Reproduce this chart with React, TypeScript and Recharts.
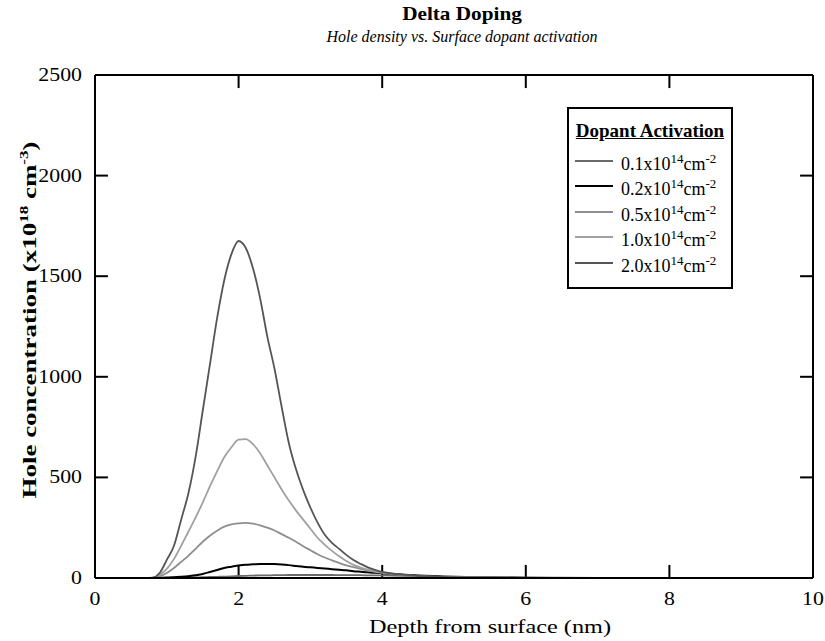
import React from "react";
import { LineChart, Line, XAxis, YAxis, Legend, ReferenceLine } from "recharts";

const depth = [0, 0.5, 0.7, 0.8, 0.9, 1.0, 1.1, 1.2, 1.3, 1.4, 1.5, 1.6, 1.7, 1.8, 1.9, 2.0, 2.1, 2.2, 2.3, 2.4, 2.5, 2.6, 2.7, 2.8, 2.9, 3.0, 3.1, 3.2, 3.3, 3.4, 3.5, 3.6, 3.7, 3.8, 3.9, 4.0, 4.5, 5.0, 5.5, 6.0, 7.0, 8.0, 9.0, 10.0];

const act01 = [0, 0, 0, 0, 0, 0, 0, 1, 2, 3, 4, 5, 6, 7, 8, 10, 11, 12, 13, 13, 14, 14, 15, 15, 15, 15, 15, 15, 15, 14, 14, 14, 14, 13, 13, 13, 8, 5, 3, 2, 1, 0, 0, 0];
const act02 = [0, 0, 0, 0, 1, 2, 4, 6, 9, 14, 20, 30, 40, 50, 56, 62, 66, 68, 70, 70, 69, 67, 64, 60, 56, 53, 50, 47, 44, 41, 38, 34, 31, 28, 26, 24, 12, 6, 3, 1, 0, 0, 0, 0];
const act05 = [0, 0, 0, 1, 8, 25, 50, 80, 110, 145, 180, 210, 235, 255, 267, 272, 274, 270, 262, 250, 236, 218, 200, 180, 158, 138, 118, 102, 88, 75, 63, 54, 45, 37, 31, 26, 9, 4, 2, 1, 0, 0, 0, 0];
const act10 = [0, 0, 0, 1, 15, 45, 95, 160, 230, 300, 375, 455, 530, 600, 650, 688, 690, 665, 620, 560, 500, 440, 385, 335, 290, 245, 200, 165, 135, 108, 85, 65, 52, 42, 34, 28, 9, 4, 2, 1, 0, 0, 0, 0];
const act20 = [0, 0, 0, 2, 25, 90, 160, 290, 420, 600, 830, 1060, 1290, 1480, 1610, 1675, 1640, 1540, 1390, 1200, 1040, 850, 670, 540, 437, 350, 275, 215, 175, 145, 115, 89, 70, 53, 40, 30, 10, 4, 2, 1, 0, 0, 0, 0];

const xTicks = [0, 2, 4, 6, 8, 10];
const yTicks = [0, 500, 1000, 1500, 2000, 2500];
const xDomain = [0, 10];
const yDomain = [0, 2500];

const seriesNames = ["0.1", "0.2", "0.5", "1.0", "2.0"];
const seriesValues = [act01, act02, act05, act10, act20];
const seriesColors = ["#6a6a6a", "#000000", "#8e8e8e", "#a0a0a0", "#555555"];

const data = depth.map((d, i) => {
  const row: Record<string, number> = { depth: d };
  seriesNames.forEach((n, k) => {
    row["s" + k] = seriesValues[k][i];
  });
  return row;
});

const FONT = "'Liberation Serif', 'Times New Roman', serif";
// inward tick length expressed in axis units (about 13 px)
const X_TICK_LEN = 65;
const Y_TICK_LEN = 0.18;

const BottomLabel = (props: any) => {
  const { x, y, payload } = props;
  return (
    <text transform={`translate(${x},${y + 27}) scale(1.15,1)`} textAnchor="middle" fontFamily={FONT} fontSize={19} fill="#000">
      {payload.value}
    </text>
  );
};

const LeftLabel = (props: any) => {
  const { x, y, payload } = props;
  return (
    <text transform={`translate(${x - 13},${y + 6}) scale(1.15,1)`} textAnchor="end" fontFamily={FONT} fontSize={19} fill="#000">
      {payload.value}
    </text>
  );
};

const LegendBox = (props: any) => {
  const payload = props.payload || [];
  return (
    <div
      style={{
        border: "2px solid #000",
        background: "#fff",
        width: 166,
        height: 182,
        boxSizing: "border-box",
        fontFamily: FONT,
        color: "#000",
        paddingTop: 10,
      }}
    >
      <div style={{ fontWeight: "bold", fontSize: 19, textDecoration: "underline", textAlign: "center", lineHeight: "24px", height: 24 }}>
        Dopant Activation
      </div>
      <div style={{ marginTop: 4 }}>
        {payload.map((p: any, i: number) => (
          <div key={i} style={{ display: "flex", alignItems: "center", height: 25.5, fontSize: 18, whiteSpace: "nowrap" }}>
            <svg width={52} height={20} style={{ flex: "none" }}>
              <line x1={6} y1={11} x2={44} y2={11} stroke={p.color} strokeWidth={2} />
            </svg>
            <span style={{ position: "relative", top: 3 }}>
              {p.value}x10<sup style={{ fontSize: 13, verticalAlign: 7 }}>14</sup>cm<sup style={{ fontSize: 13, verticalAlign: 7 }}>-2</sup>
            </span>
          </div>
        ))}
      </div>
    </div>
  );
};

const YLabel = () => {
  const cx = 36;
  const cy = 320;
  return (
    <text
      transform={`translate(${cx},${cy}) rotate(-90) scale(1.42,1)`}
      textAnchor="middle"
      fontFamily={FONT}
      fontWeight="bold"
      fontSize={19}
      fill="#000"
    >
      Hole concentration (x10
      <tspan dy={-8} fontSize={12}>18</tspan>
      <tspan dy={8}> cm</tspan>
      <tspan dy={-8} fontSize={12}>-3</tspan>
      <tspan dy={8}>)</tspan>
    </text>
  );
};

const XLabel = () => (
  <text transform={`translate(490,633) scale(1.35,1)`} textAnchor="middle" fontFamily={FONT} fontSize={18} fill="#000">
    Depth from surface (nm)
  </text>
);

export default function App() {
  const tickMarks: React.ReactNode[] = [];
  xTicks.slice(1, -1).forEach((t) => {
    tickMarks.push(
      <ReferenceLine key={"xb" + t} xAxisId="b" yAxisId="l" ifOverflow="visible" stroke="#000" strokeWidth={2}
        segment={[{ x: t, y: yDomain[0] }, { x: t, y: yDomain[0] + X_TICK_LEN }]} />
    );
    tickMarks.push(
      <ReferenceLine key={"xt" + t} xAxisId="b" yAxisId="l" ifOverflow="visible" stroke="#000" strokeWidth={2}
        segment={[{ x: t, y: yDomain[1] }, { x: t, y: yDomain[1] - X_TICK_LEN }]} />
    );
  });
  yTicks.slice(1, -1).forEach((t) => {
    tickMarks.push(
      <ReferenceLine key={"yl" + t} xAxisId="b" yAxisId="l" ifOverflow="visible" stroke="#000" strokeWidth={2}
        segment={[{ x: xDomain[0], y: t }, { x: xDomain[0] + Y_TICK_LEN, y: t }]} />
    );
    tickMarks.push(
      <ReferenceLine key={"yr" + t} xAxisId="b" yAxisId="l" ifOverflow="visible" stroke="#000" strokeWidth={2}
        segment={[{ x: xDomain[1], y: t }, { x: xDomain[1] - Y_TICK_LEN, y: t }]} />
    );
  });

  return (
    <div style={{ position: "absolute", left: 0, top: 0, width: 825, height: 641, background: "#fff" }}>
      <LineChart width={825} height={641} data={data} margin={{ top: 75, right: 12, bottom: 33, left: 35 }}>
        <text transform="translate(462,20) scale(1.18,1)" textAnchor="middle" fontFamily={FONT} fontWeight="bold" fontSize={18} fill="#000">
          Delta Doping
        </text>
        <text x={462} y={42} textAnchor="middle" fontFamily={FONT} fontStyle="italic" fontSize={16} fill="#000">
          Hole density vs. Surface dopant activation
        </text>
        <XAxis
          xAxisId="b"
          dataKey="depth"
          type="number"
          domain={xDomain}
          ticks={xTicks}
          height={30}
          tickLine={false}
          tickSize={0}
          tickMargin={0}
          axisLine={{ stroke: "#000", strokeWidth: 2 }}
          tick={<BottomLabel />}
          label={<XLabel />}
        />
        <XAxis
          xAxisId="t"
          orientation="top"
          dataKey="depth"
          type="number"
          domain={xDomain}
          ticks={xTicks}
          mirror
          tick={false}
          tickLine={false}
          axisLine={{ stroke: "#000", strokeWidth: 2 }}
        />
        <YAxis
          yAxisId="l"
          type="number"
          domain={yDomain}
          ticks={yTicks}
          width={60}
          tickLine={false}
          tickSize={0}
          tickMargin={0}
          axisLine={{ stroke: "#000", strokeWidth: 2 }}
          tick={<LeftLabel />}
          label={<YLabel />}
        />
        <YAxis
          yAxisId="r"
          orientation="right"
          type="number"
          domain={yDomain}
          ticks={yTicks}
          mirror
          tick={false}
          tickLine={false}
          axisLine={{ stroke: "#000", strokeWidth: 2 }}
        />
        {tickMarks}
        {seriesNames.map((n, k) => (
          <Line
            key={n}
            xAxisId="b"
            yAxisId="l"
            dataKey={"s" + k}
            name={n}
            type="monotone"
            stroke={seriesColors[k]}
            strokeWidth={k === 1 ? 2 : 1.8}
            dot={false}
            isAnimationActive={false}
          />
        ))}
        <Legend
          layout="horizontal"
          verticalAlign="middle"
          align="center"
          content={<LegendBox />}
          wrapperStyle={{ position: "absolute", left: 567, top: 107, width: 166, height: 182 }}
        />
      </LineChart>
    </div>
  );
}
